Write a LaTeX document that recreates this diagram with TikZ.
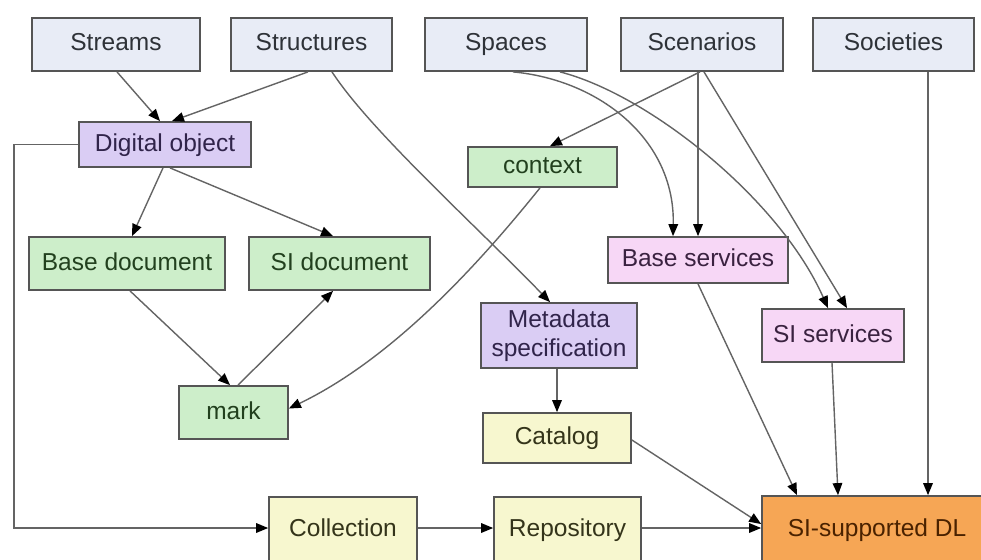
\documentclass[tikz,border=0pt]{standalone}
\usepackage{fontspec}
\setmainfont{Liberation Sans}
\usetikzlibrary{arrows.meta}
\definecolor{bordc}{HTML}{555555}
\definecolor{linec}{HTML}{646464}
\definecolor{topf}{HTML}{E8ECF6}
\definecolor{topt}{HTML}{2E3238}
\definecolor{purf}{HTML}{DACDF4}
\definecolor{purt}{HTML}{30244A}
\definecolor{grnf}{HTML}{CDEECA}
\definecolor{grnt}{HTML}{22401E}
\definecolor{pnkf}{HTML}{F7D7F6}
\definecolor{pnkt}{HTML}{3A2240}
\definecolor{ylwf}{HTML}{F7F7CF}
\definecolor{ylwt}{HTML}{34341A}
\definecolor{orgf}{HTML}{F6A655}
\definecolor{orgt}{HTML}{4A2200}
\tikzset{
  box/.style={draw=bordc, line width=1.8pt, inner sep=2pt, align=center,
    font=\fontsize{24.5}{29}\selectfont, text height=18pt, text depth=5pt},
  topbox/.style={box, fill=topf, text=topt, minimum height=53pt},
  purbox/.style={box, fill=purf, text=purt},
  grnbox/.style={box, fill=grnf, text=grnt},
  pnkbox/.style={box, fill=pnkf, text=pnkt},
  ylwbox/.style={box, fill=ylwf, text=ylwt},
  orgbox/.style={box, fill=orgf, text=orgt},
  conn/.style={draw=linec, line width=1.4pt, -{Triangle[length=12pt,width=10pt,color=black,fill=black,line width=0pt]}}
}
\begin{document}
\begin{tikzpicture}[x=1pt,y=-1pt]
\clip (0,0) rectangle (981,559);
\fill[white] (0,0) rectangle (981,559);
% top row
\node[topbox, minimum width=168pt] (streams) at (116,44.5) {Streams};
\node[topbox, minimum width=161pt] (structures) at (311.5,44.5) {Structures};
\node[topbox, minimum width=162pt] (spaces) at (506,44.5) {Spaces};
\node[topbox, minimum width=162pt] (scenarios) at (702,44.5) {Scenarios};
\node[topbox, minimum width=161pt] (societies) at (893.5,44.5) {Societies};
% middle
\node[purbox, minimum width=172pt, minimum height=45pt] (dobj) at (165,144.5) {Digital object};
\node[grnbox, minimum width=149pt, minimum height=40pt] (context) at (542.5,167) {context};
\node[grnbox, minimum width=196pt, minimum height=53pt] (basedoc) at (127,263.5) {Base document};
\node[grnbox, minimum width=181pt, minimum height=53pt] (sidoc) at (339.5,263.5) {SI document};
\node[grnbox, minimum width=109pt, minimum height=53pt] (mark) at (233.5,412.5) {mark};
\node[purbox, minimum width=156pt, minimum height=65pt, text height=, text depth=] (meta) at (559,335.5) {Metadata\\specification};
\node[pnkbox, minimum width=180pt, minimum height=46pt] (basesrv) at (698,260) {Base services};
\node[pnkbox, minimum width=142pt, minimum height=53pt] (sisrv) at (833,335.5) {SI services};
\node[ylwbox, minimum width=148pt, minimum height=50pt] (catalog) at (557,438) {Catalog};
% bottom
\node[ylwbox, minimum width=148pt, minimum height=66pt] (collection) at (343,530) {Collection};
\node[ylwbox, minimum width=147pt, minimum height=66pt] (repository) at (567.5,530) {Repository};
\node[orgbox, minimum width=230pt, minimum height=68pt] (sidl) at (877,530) {SI-supported DL};
% connectors
\draw[conn] ([xshift=1pt]streams.south) -- ([xshift=-5pt]dobj.north);
\draw[conn] ([xshift=-3.5pt]structures.south) -- ([xshift=7pt]dobj.north);
\draw[conn] ([xshift=20.5pt]structures.south) .. controls (370,130) and (470,220) .. ([xshift=-9pt]meta.north);
\draw[conn] ([xshift=-2pt]dobj.south) -- ([xshift=5pt]basedoc.north);
\draw[conn] ([xshift=5pt]dobj.south) -- ([xshift=-6.5pt]sidoc.north);
\draw[conn] ([xshift=3pt]basedoc.south) -- ([xshift=-3.5pt]mark.north);
\draw[conn] ([xshift=4.5pt]mark.north) -- ([xshift=-6.5pt]sidoc.south);
\draw[conn] ([xshift=-2.5pt]context.south) .. controls (490,250) and (400,355) .. ([yshift=4pt]mark.east);
\draw[conn] ([xshift=-2pt]scenarios.south) -- ([xshift=7.5pt]context.north);
\draw[conn] ([xshift=-4pt]scenarios.south) -- (basesrv.north);
\draw[conn] ([xshift=2pt]scenarios.south) -- ([xshift=14pt]sisrv.north);
\draw[conn] ([xshift=7pt]spaces.south) .. controls (600,80) and (675,140) .. ([xshift=-25pt]basesrv.north);
\draw[conn] ([xshift=54pt]spaces.south) .. controls (650,95) and (780,200) .. ([xshift=-5pt]sisrv.north);
\draw[conn] ([xshift=34.5pt]societies.south) -- ([xshift=51pt]sidl.north);
\draw[conn] (basesrv.south) -- ([xshift=-80pt]sidl.north);
\draw[conn] ([xshift=-1pt]sisrv.south) -- ([xshift=-39pt]sidl.north);
\draw[conn] ([xshift=-2pt]meta.south) -- (catalog.north);
\draw[conn] ([yshift=-2pt]catalog.east) -- ([yshift=6pt]sidl.west);
\draw[conn] ([yshift=2pt]repository.east) -- ([yshift=2pt]sidl.west);
\draw[conn] ([yshift=2pt]collection.east) -- ([yshift=2pt]repository.west);
\draw[conn] (dobj.west) -- ++(-64,0) |- ([yshift=2pt]collection.west);
\end{tikzpicture}
\end{document}
